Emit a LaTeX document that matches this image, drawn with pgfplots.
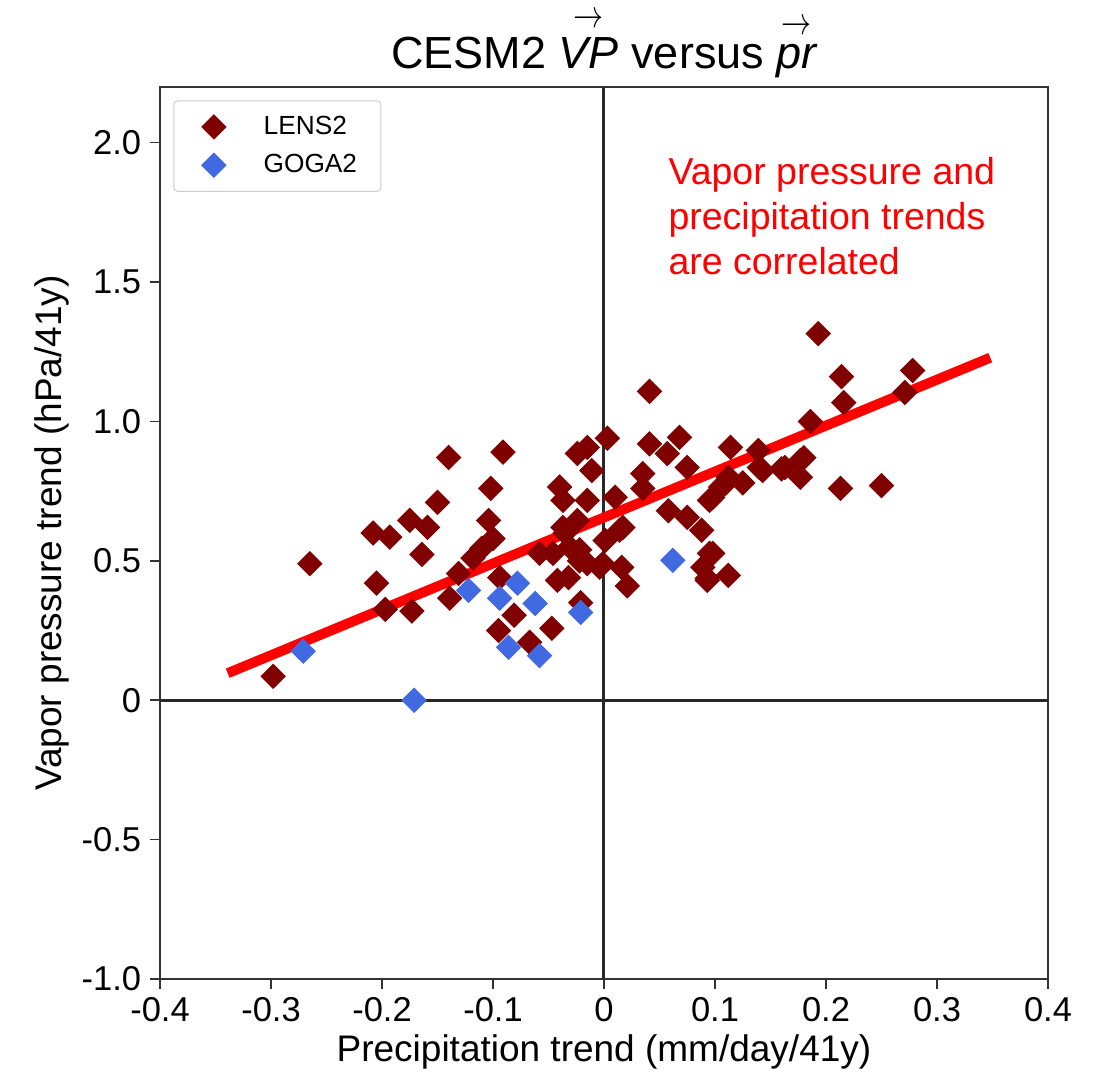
\documentclass[border=0pt]{standalone}
\usepackage{pgfplots}
\pgfplotsset{compat=1.18}
\usepackage{amsmath}
\usepackage{fontspec}
\setmainfont{Liberation Sans}
\definecolor{lensred}{RGB}{128,0,0}
\definecolor{gogablue}{RGB}{65,105,225}
\definecolor{zeroline}{RGB}{40,40,40}
\newcommand{\arr}[1]{\overset{\raisebox{0.5pt}{\scalebox{1}[1.3]{$\scriptstyle\rightarrow$}}}{\textit{#1}}}
\begin{document}
\begin{tikzpicture}
\begin{axis}[
  scale only axis,
  width=355.2pt, height=356.8pt,
  xmin=-0.4, xmax=0.4, ymin=-1.0, ymax=2.2,
  xtick={-0.4,-0.3,-0.2,-0.1,0,0.1,0.2,0.3,0.4},
  xticklabels={-0.4,-0.3,-0.2,-0.1,0,0.1,0.2,0.3,0.4},
  ytick={-1.0,-0.5,0,0.5,1.0,1.5,2.0},
  yticklabels={-1.0,-0.5,0,0.5,1.0,1.5,2.0},
  tick align=outside, tick pos=left,
  major tick length=4pt,
  every tick/.style={black!80, line width=0.6pt},
  axis line style={black!80, line width=0.7pt},
  ticklabel style={font=\fontsize{13.8}{16}\selectfont},
  /pgf/number format/assume math mode=true,
  xlabel={Precipitation trend (mm/day/41y)},
  ylabel={Vapor pressure trend (hPa/41y)},
  label style={font=\fontsize{14.8}{17}\selectfont},
  xlabel style={yshift=2pt},
  ylabel style={yshift=-2pt},
  legend style={at={(0.015,0.985)}, anchor=north west, draw=black!20, rounded corners=1.5pt,
    font=\fontsize{10.5}{12}\selectfont, inner xsep=7.5pt, inner ysep=4pt, row sep=2.5pt},
  legend cell align=left,
  legend image code/.code={\pgfpathmoveto{\pgfpoint{0cm}{0pt}}\pgfpathlineto{\pgfpoint{0.93cm}{0pt}}\pgfusepath{discard}\draw[#1] plot coordinates {(0.3cm,0cm)};},
  clip=false,
]
\addplot[zeroline, line width=1.2pt, forget plot] coordinates {(-0.4,0) (0.4,0)};
\addplot[zeroline, line width=1.2pt, forget plot] coordinates {(0,-1.0) (0,2.2)};
\addplot[only marks, mark=square*, mark size=3.4pt, color=lensred, mark options={rotate=45, fill=lensred, draw=lensred}] coordinates {
(-0.140,0.871) (-0.150,0.71) (-0.175,0.645) (-0.159,0.62) (-0.208,0.60) (-0.193,0.585)
(-0.164,0.523) (-0.265,0.49) (-0.205,0.42) (-0.197,0.326) (-0.173,0.32) (-0.139,0.366)
(-0.298,0.086) (-0.091,0.89) (-0.102,0.76) (-0.104,0.645) (-0.100,0.58) (-0.110,0.545)
(-0.118,0.51) (-0.131,0.455) (-0.094,0.44) (-0.081,0.305) (-0.095,0.25) (-0.067,0.208)
(-0.047,0.258) (-0.021,0.35) (-0.042,0.43) (-0.032,0.44) (-0.058,0.527) (-0.046,0.527)
(-0.035,0.60) (-0.024,0.645) (-0.022,0.54) (-0.015,0.49) (-0.040,0.765) (-0.037,0.717)
(-0.015,0.717) (-0.024,0.885) (-0.015,0.907) (-0.011,0.824) (0.003,0.94) (0.010,0.728)
(0.014,0.61) (0.001,0.573) (-0.004,0.477) (0.016,0.477) (0.021,0.41) (0.041,1.108)
(0.035,0.813) (0.041,0.92) (0.068,0.943) (0.057,0.885) (0.075,0.835) (0.058,0.68)
(0.075,0.656) (0.088,0.61) (0.095,0.527) (0.089,0.477) (0.093,0.437) (0.112,0.448)
(0.095,0.717) (0.109,0.778) (0.114,0.907) (0.193,1.315) (0.214,1.161) (0.278,1.183)
(0.271,1.104) (0.216,1.068) (0.186,1.0) (0.139,0.896) (0.177,0.86) (0.163,0.835)
(0.143,0.824) (0.177,0.80) (0.125,0.78) (0.105,0.765) (0.213,0.76) (0.250,0.77)
(0.098,0.527) (0.093,0.43) (-0.037,0.62) (-0.031,0.55) (-0.022,0.50) (0.035,0.76)
(0.017,0.62) (-0.001,0.49) (0.112,0.80) (0.180,0.87) (0.140,0.835) (0.160,0.83)
(0.110,0.78) (0.098,0.728)
};
\addlegendentry{LENS2}
\addplot[only marks, mark=square*, mark size=3.4pt, color=gogablue, mark options={rotate=45, fill=gogablue, draw=gogablue}] coordinates {
(-0.271,0.176) (-0.171,0.0) (-0.122,0.394) (-0.094,0.366) (-0.078,0.42) (-0.062,0.347)
(-0.086,0.19) (-0.058,0.16) (-0.021,0.315) (0.062,0.502)
};
\addlegendentry{GOGA2}
\addplot[red, line width=4pt, forget plot] coordinates {(-0.339,0.097) (0.348,1.229)};
\node[anchor=north west, align=left, text=red, font=\fontsize{15}{18}\selectfont, inner sep=0pt]
  at (axis cs:0.0577,1.95) {Vapor pressure and\\precipitation trends\\are correlated};
\node[anchor=base, font=\fontsize{18}{21}\selectfont, inner sep=0pt, yshift=7.5pt]
  at (rel axis cs:0.5,1) {CESM2 $\arr{VP}$ versus $\arr{pr}$};
\end{axis}
\pgfresetboundingbox
\path (-64pt,-41.2pt) rectangle (377.6pt,391.6pt);
\end{tikzpicture}
\end{document}
